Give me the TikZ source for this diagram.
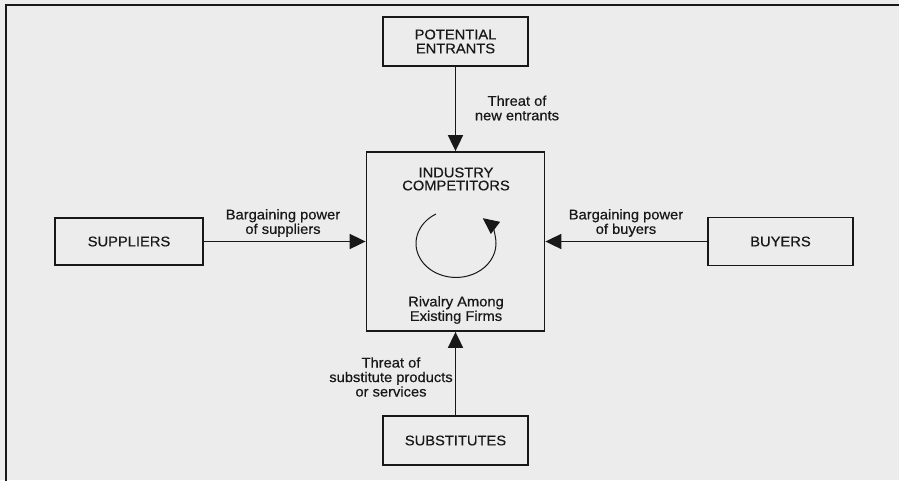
\documentclass[tikz,border=0pt]{standalone}
\usepackage{fontspec}
\setmainfont{Liberation Sans}[FakeStretch=1.05,FakeBold=0.5]
\usetikzlibrary{arrows.meta}
\definecolor{paper}{RGB}{236,236,236}
\definecolor{ink}{RGB}{24,24,24}
\begin{document}
\begin{tikzpicture}[x=1pt,y=-1pt,
  box/.style={draw=ink,line width=1.8pt,inner sep=0pt,
    text=ink,font=\fontsize{14}{14}\selectfont,align=center},
  lbl/.style={text=ink,inner sep=0pt,align=center,
    font=\fontsize{14}{14.5}\selectfont},
  force/.style={draw=ink,line width=1.8pt,-{Triangle[length=16pt,width=15pt]}},
  cycle/.style={draw=ink,line width=1pt,-{Triangle[length=16pt,width=15pt]}}]
  % canvas and frame
  \fill[paper] (0,0) rectangle (899,480);
  \useasboundingbox (0,0) rectangle (899,480);
  \coordinate (fbl) at (6,481);
  \coordinate (ftl) at (6,5);
  \coordinate (ftr) at (899,5);
  \draw[ink,line width=1.8pt] (fbl) -- (ftl) -- (ftr);

  % the five forces
  \node[box,minimum width=145pt,minimum height=49pt] (pe) at (455.5,41.5) {POTENTIAL\\ENTRANTS};
  \node[box,minimum width=178pt,minimum height=179pt] (ic) at (455.5,241.5) {};
  \node[box,minimum width=148pt,minimum height=47pt] (sup) at (129,241.5) {SUPPLIERS};
  \node[box,minimum width=145pt,minimum height=48pt] (buy) at (780.5,241.5) {BUYERS};
  \node[box,minimum width=145pt,minimum height=49pt] (sub) at (455.5,440.5) {SUBSTITUTES};

  % texts inside the central box
  \node[lbl,font=\fontsize{14}{13}\selectfont] (ictitle) at (456,179) {INDUSTRY\\COMPETITORS};
  \node[lbl] (rivalry) at (456,310) {Rivalry Among\\Existing Firms};

  % rivalry cycle
  \coordinate (cs) at (436,214);
  \draw[cycle] (cs) arc[start angle=-120,end angle=-408,x radius=40,y radius=34];

  % forces acting on the industry
  \draw[force] (pe) -- (ic);
  \draw[force] (sup) -- (ic);
  \draw[force] (buy) -- (ic);
  \draw[force] (sub) -- (ic);

  % arrow labels
  \node[lbl] (lpe) at (517,108) {Threat of\\new entrants};
  \node[lbl] (lsup) at (283,223) {Bargaining power\\of suppliers};
  \node[lbl] (lbuy) at (626,223) {Bargaining power\\of buyers};
  \node[lbl] (lsub) at (391,377) {Threat of\\substitute products\\or services};
\end{tikzpicture}
\end{document}
